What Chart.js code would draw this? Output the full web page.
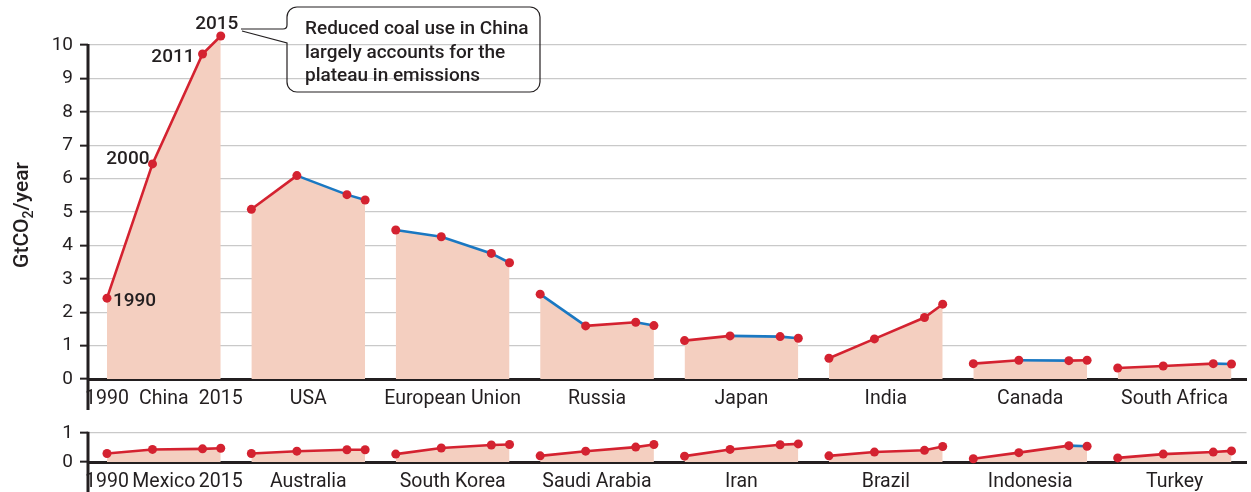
<!DOCTYPE html>
<html>
<head>
<meta charset="utf-8">
<script src="https://cdn.jsdelivr.net/npm/chart.js@4"></script>
<style>
  html, body { margin: 0; padding: 0; background: #fff; }
  #wrap { position: relative; width: 1251px; height: 492px; }
  #topChart { position: absolute; left: 0; top: 0; }
  #bottomChart { position: absolute; left: 0; top: 410px; }
</style>
</head>
<body>
<div id="wrap">
  <canvas id="topChart" width="1251" height="410"></canvas>
  <canvas id="bottomChart" width="1251" height="82"></canvas>
</div>
<script>
const years = [1990, 2000, 2011, 2015];

// first row (GtCO2/year)
const topCountries = ["China", "USA", "European Union", "Russia", "Japan", "India", "Canada", "South Africa"];
const china = [2.42, 6.44, 9.73, 10.27];
const usa = [5.08, 6.09, 5.52, 5.36];
const eu = [4.46, 4.26, 3.76, 3.48];
const russia = [2.54, 1.59, 1.70, 1.60];
const japan = [1.15, 1.29, 1.27, 1.22];
const india = [0.62, 1.20, 1.84, 2.24];
const canada = [0.46, 0.56, 0.55, 0.56];
const southAfrica = [0.33, 0.39, 0.46, 0.45];

// second row
const bottomCountries = ["Mexico", "Australia", "South Korea", "Saudi Arabia", "Iran", "Brazil", "Indonesia", "Turkey"];
const mexico = [0.29, 0.43, 0.45, 0.47];
const australia = [0.29, 0.37, 0.42, 0.42];
const southKorea = [0.27, 0.48, 0.58, 0.60];
const saudiArabia = [0.21, 0.37, 0.51, 0.60];
const iran = [0.20, 0.43, 0.59, 0.62];
const brazil = [0.21, 0.34, 0.40, 0.53];
const indonesia = [0.11, 0.32, 0.56, 0.54];
const turkey = [0.14, 0.27, 0.34, 0.38];

const topSeries = [china, usa, eu, russia, japan, india, canada, southAfrica];
const bottomSeries = [mexico, australia, southKorea, saudiArabia, iran, brazil, indonesia, turkey];

const RED = "#d42230";
const BLUE = "#1a78c2";
const FILL = "#f4cfc0";
const INK = "#231f20";
const GRID = "#c9c9c9";
const FONT = "Roboto";

const PANEL_STEP = 31.73; // years between panel starts on the shared x axis
const span = years[years.length - 1] - years[0];

function toPoints(vals, i) {
    return vals.map((v, j) => ({ x: i * PANEL_STEP + years[j] - years[0], y: v }));
}

// coloured lines first (drawn on top), then one seamless fill per panel
function buildDatasets(series) {
    const lines = series.map((vals, i) => ({
        data: toPoints(vals, i),
        borderColor: RED,
        borderWidth: 2.6,
        fill: false,
        tension: 0,
        pointRadius: 4.5,
        pointHoverRadius: 4.5,
        pointBackgroundColor: RED,
        pointBorderWidth: 0,
        clip: false,
        order: 0,
        segment: {
            // falling segments in blue, rising in red
            borderColor: c => c.p1.parsed.y < c.p0.parsed.y ? BLUE : RED,
        },
    }));
    const fills = series.map((vals, i) => ({
        data: toPoints(vals, i),
        borderWidth: 0,
        backgroundColor: FILL,
        fill: "origin",
        tension: 0,
        pointRadius: 0,
        clip: false,
        order: 1,
    }));
    return lines.concat(fills);
}

function xTicks(countries) {
    const ticks = [];
    const labels = [];
    countries.forEach((name, i) => {
        if (i === 0) { ticks.push(0); labels.push(String(years[0])); }
        ticks.push(i * PANEL_STEP + span / 2); labels.push(name);
        if (i === 0) { ticks.push(span); labels.push(String(years[years.length - 1])); }
    });
    return { ticks, labels };
}

function xScale(countries, height) {
    const t = xTicks(countries);
    return {
        type: "linear",
        min: -4.17,
        max: 7 * PANEL_STEP + span + 3.3,
        z: 1,
        grid: { display: false },
        border: { display: true, color: INK, width: 3 },
        ticks: {
            autoSkip: false,
            maxRotation: 0,
            padding: 0,
            color: INK,
            font: { family: FONT, size: 19.5 },
            callback: (value, index) => t.labels[index],
        },
        afterBuildTicks: scale => { scale.ticks = t.ticks.map(v => ({ value: v })); },
        afterFit: scale => { scale.height = height; scale.paddingLeft = 0; scale.paddingRight = 0; },
    };
}

function yScale(max, top) {
    const ticks = [];
    for (let v = 0; v <= top; v++) ticks.push({ value: v });
    return {
        min: 0,
        max: max,
        ticks: {
            padding: 7,
            color: INK,
            font: { family: FONT, size: 19 },
        },
        grid: { color: GRID, lineWidth: 1.3, tickColor: INK, tickLength: 8, tickWidth: 2 },
        border: { display: false },
        afterBuildTicks: scale => { scale.ticks = ticks.map(t => ({ value: t.value })); },
        afterFit: scale => { scale.width = 88; scale.paddingTop = 0; scale.paddingBottom = 0; },
    };
}

// vertical axis line from the top tick down to the canvas bottom
const axisLine = {
    id: "axisLine",
    afterDraw(chart) {
        const ctx = chart.ctx;
        const y = chart.scales.y;
        const topTick = y.ticks[y.ticks.length - 1].value;
        ctx.save();
        ctx.strokeStyle = INK;
        ctx.lineWidth = 3;
        ctx.beginPath();
        ctx.moveTo(chart.chartArea.left, y.getPixelForValue(topTick) - 1);
        ctx.lineTo(chart.chartArea.left, chart.height);
        ctx.stroke();
        ctx.restore();
    },
};

// y axis title, China year labels, callout box
const topDecor = {
    id: "topDecor",
    afterDraw(chart) {
        const ctx = chart.ctx;
        ctx.save();

        // axis title with subscript
        ctx.fillStyle = INK;
        ctx.translate(23, 215);
        ctx.rotate(-Math.PI / 2);
        ctx.textBaseline = "middle";
        const big = "500 21px " + FONT, small = "500 14px " + FONT;
        ctx.font = big; const w1 = ctx.measureText("GtCO").width; const w3 = ctx.measureText("/year").width;
        ctx.font = small; const w2 = ctx.measureText("2").width;
        let x = -(w1 + w2 + w3) / 2;
        ctx.font = big; ctx.fillText("GtCO", x, 0); x += w1;
        ctx.font = small; ctx.fillText("2", x, 6); x += w2;
        ctx.font = big; ctx.fillText("/year", x, 0);
        ctx.setTransform(1, 0, 0, 1, 0, 0);

        // year labels beside the China points
        const pts = chart.getDatasetMeta(0).data;
        ctx.font = "500 19px " + FONT;
        ctx.textBaseline = "middle";
        ctx.textAlign = "left";   ctx.fillText(String(years[0]), pts[0].x + 6, pts[0].y + 3);
        ctx.textAlign = "right";  ctx.fillText(String(years[1]), pts[1].x - 3, pts[1].y - 5);
        ctx.textAlign = "right";  ctx.fillText(String(years[2]), pts[2].x - 8, pts[2].y + 3);
        ctx.textAlign = "center"; ctx.fillText(String(years[3]), pts[3].x - 4, pts[3].y - 12);

        // callout
        const L = 287, R = 540, T = 7, B = 92, r = 10;
        ctx.strokeStyle = INK;
        ctx.lineWidth = 1.2;
        ctx.beginPath();
        ctx.moveTo(241, 29);
        ctx.lineTo(L - 4, 29);
        ctx.quadraticCurveTo(L, 29, L, 25);
        ctx.lineTo(L, T + r);
        ctx.arcTo(L, T, L + r, T, r);
        ctx.lineTo(R - r, T);
        ctx.arcTo(R, T, R, T + r, r);
        ctx.lineTo(R, B - r);
        ctx.arcTo(R, B, R - r, B, r);
        ctx.lineTo(L + r, B);
        ctx.arcTo(L, B, L, B - r, r);
        ctx.lineTo(L, 43);
        ctx.lineTo(242, 31);
        ctx.stroke();

        ctx.textAlign = "left";
        ctx.textBaseline = "alphabetic";
        ctx.fillStyle = INK;
        ctx.font = "500 19px " + FONT;
        ["Reduced coal use in China", "largely accounts for the", "plateau in emissions"]
            .forEach((line, i) => ctx.fillText(line, 305, 34 + i * 23.5));
        ctx.restore();
    },
};

const common = {
    responsive: false,
    animation: false,
    events: [],
    plugins: { legend: { display: false }, tooltip: { enabled: false } },
};

// top row: 10 sits at y=45, so 10.5 leaves room above for the China 2015 point
new Chart(document.getElementById("topChart").getContext("2d"), {
    type: "line",
    data: { datasets: buildDatasets(topSeries) },
    options: {
        ...common,
        layout: { padding: { top: 28.3, right: 2, left: 0, bottom: 0 } },
        scales: { x: xScale(topCountries, 31), y: yScale(10.5, 10) },
    },
    plugins: [axisLine, topDecor],
});

new Chart(document.getElementById("bottomChart").getContext("2d"), {
    type: "line",
    data: { datasets: buildDatasets(bottomSeries) },
    options: {
        ...common,
        layout: { padding: { top: 0, right: 2, left: 0, bottom: 0 } },
        scales: { x: xScale(bottomCountries, 30), y: yScale(1.625, 1) },
    },
    plugins: [axisLine],
});
</script>
</body>
</html>
